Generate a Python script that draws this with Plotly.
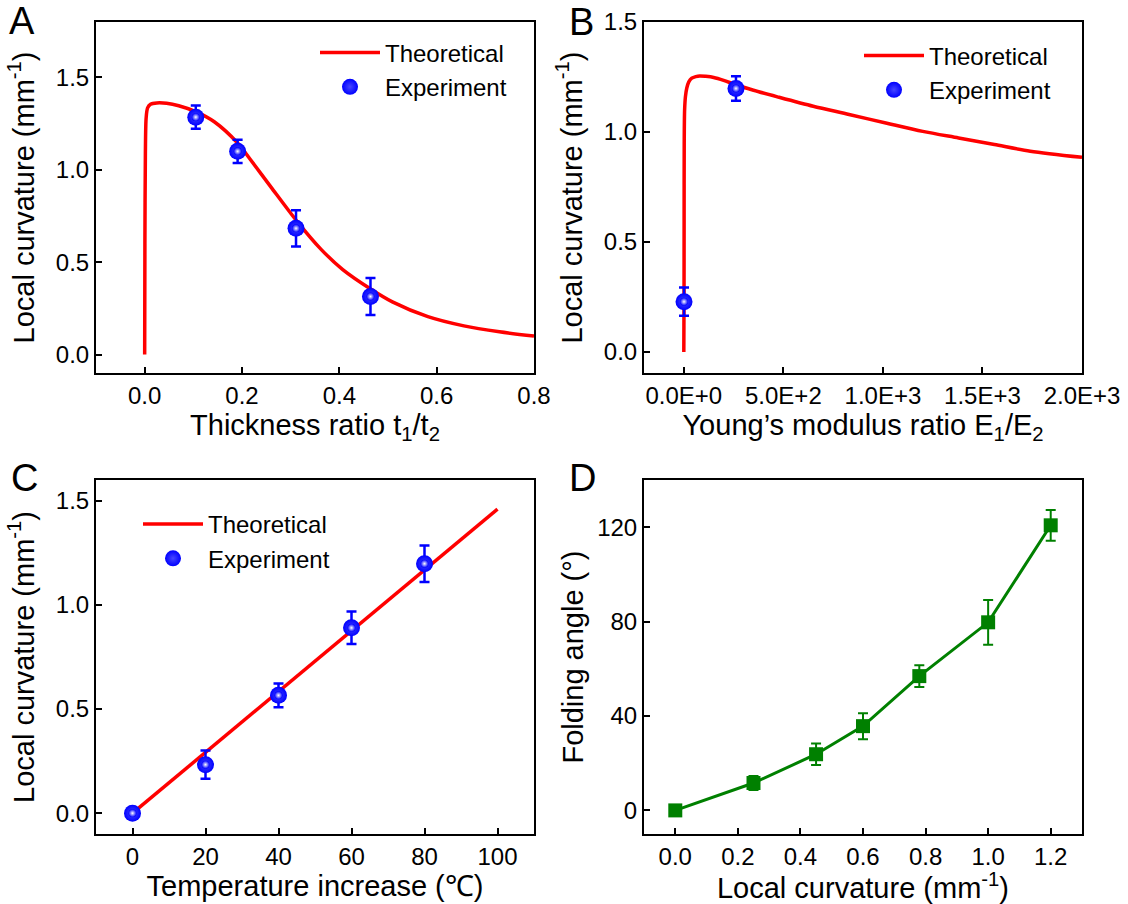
import plotly.graph_objects as go

W, H = 1128, 904
FONT = "Arial"

# ---------------- Panel A data ----------------
a_theory_x = [0, 0.0005, 0.0015, 0.003, 0.006, 0.012, 0.025, 0.045, 0.07, 0.105, 0.143,
              0.191, 0.216, 0.26, 0.311, 0.363, 0.407, 0.466, 0.509, 0.582, 0.656, 0.729, 0.8]
a_theory_y = [0, 0.6, 1.1, 1.28, 1.335, 1.355, 1.362, 1.36, 1.347, 1.315, 1.26,
              1.145, 1.06, 0.905, 0.728, 0.568, 0.46, 0.352, 0.285, 0.205, 0.155, 0.123, 0.100]
a_exp_x = [0.105, 0.191, 0.311, 0.464]
a_exp_y = [1.285, 1.10, 0.683, 0.314]
a_exp_err = [0.063, 0.063, 0.098, 0.10]

# ---------------- Panel B data ----------------
b_theory_x = [0, 0.5, 1, 1.5, 2, 4, 8, 15, 25, 40, 60, 80, 110, 150, 200, 260, 350, 470,
              650, 830, 1020, 1200, 1380, 1560, 1740, 2000]
b_theory_y = [0, 0.12, 0.23, 0.6, 0.95, 1.1, 1.16, 1.2, 1.228, 1.245, 1.252, 1.255, 1.253,
              1.248, 1.235, 1.215, 1.19, 1.16, 1.117, 1.08, 1.04, 1.003, 0.973, 0.943, 0.913, 0.885]
b_exp_x = [1, 262]
b_exp_y = [0.229, 1.198]
b_exp_err = [0.064, 0.056]
b_tickvals = [0, 500, 1000, 1500, 2000]
b_ticktext = ["0.0E+0", "5.0E+2", "1.0E+3", "1.5E+3", "2.0E+3"]

# ---------------- Panel C data ----------------
c_theory_x = [0, 100]
c_theory_y = [0, 1.46]
c_exp_x = [0, 20, 40, 60, 80]
c_exp_y = [0, 0.233, 0.566, 0.89, 1.198]
c_exp_err = [0, 0.068, 0.057, 0.078, 0.088]

# ---------------- Panel D data ----------------
d_x = [0, 0.25, 0.45, 0.6, 0.78, 1.0, 1.2]
d_y = [0, 11.6, 23.8, 35.7, 56.9, 79.7, 120.8]
d_err = [1.5, 3, 4.6, 5.5, 4.6, 9.5, 6.5]

RED = "#ff0000"
BLUE = "#0000ff"
GREEN = "#008000"

fig = go.Figure()

def theory(x, y, xa, ya, legend, shape="spline"):
    fig.add_trace(go.Scatter(x=x, y=y, mode="lines", name="Theoretical",
                             line=dict(color=RED, width=3.5, shape=shape, smoothing=0.8),
                             xaxis=xa, yaxis=ya, legend=legend))

def experiment(x, y, err, xa, ya, legend):
    fig.add_trace(go.Scatter(x=x, y=y, mode="markers", name="Experiment",
                             marker=dict(color=BLUE, size=17, line=dict(width=0),
                                         gradient=dict(type="radial", color="#4646ff")),
                             error_y=dict(type="data", array=err, visible=True,
                                          color=BLUE, thickness=2.5, width=5),
                             xaxis=xa, yaxis=ya, legend=legend))
    # specular highlight of the sphere markers
    fig.add_trace(go.Scatter(x=x, y=y, mode="markers", name="Experiment",
                             marker=dict(color=BLUE, size=8, line=dict(width=0),
                                         gradient=dict(type="radial", color="#ffffff")),
                             xaxis=xa, yaxis=ya, showlegend=False, hoverinfo="skip"))

theory(a_theory_x, a_theory_y, "x", "y", "legend")
experiment(a_exp_x, a_exp_y, a_exp_err, "x", "y", "legend")
theory(b_theory_x, b_theory_y, "x2", "y2", "legend2")
experiment(b_exp_x, b_exp_y, b_exp_err, "x2", "y2", "legend2")
theory(c_theory_x, c_theory_y, "x3", "y3", "legend3", shape="linear")
experiment(c_exp_x, c_exp_y, c_exp_err, "x3", "y3", "legend3")

fig.add_trace(go.Scatter(x=d_x, y=d_y, mode="lines+markers", name="Folding angle",
                         line=dict(color=GREEN, width=3),
                         marker=dict(color=GREEN, size=14, symbol="square", line=dict(width=0)),
                         error_y=dict(type="data", array=d_err, visible=True,
                                      color=GREEN, thickness=2, width=5),
                         xaxis="x4", yaxis="y4", showlegend=False))

axis_common = dict(showline=True, linewidth=2, linecolor="black", mirror=True,
                   ticks="inside", ticklen=6, tickwidth=2, tickcolor="black",
                   showgrid=False, zeroline=False, automargin=False,
                   tickfont=dict(size=24, color="black", family=FONT))
title_font = dict(size=29, color="black", family=FONT)

xA = [96 / W, 534 / W]
xB = [644 / W, 1082 / W]
yTop = [1 - 373 / H, 1 - 22 / H]
yBot = [1 - 834 / H, 1 - 480 / H]
legend_font = dict(size=24, family=FONT, color="black")

fig.update_layout(
    width=W, height=H,
    margin=dict(l=0, r=0, t=0, b=0),
    paper_bgcolor="white", plot_bgcolor="white",
    font=dict(family=FONT, color="black"),
    xaxis=dict(axis_common, domain=xA, anchor="y", range=[-0.1, 0.8],
               tickvals=[0, 0.2, 0.4, 0.6, 0.8], ticktext=["0.0", "0.2", "0.4", "0.6", "0.8"],
               title=dict(text="Thickness ratio t<sub>1</sub>/t<sub>2</sub>", font=title_font, standoff=6)),
    yaxis=dict(axis_common, domain=yTop, anchor="x", range=[-0.1, 1.8],
               tickvals=[0, 0.5, 1.0, 1.5], ticktext=["0.0", "0.5", "1.0", "1.5"],
               title=dict(text="Local curvature (mm<sup>-1</sup>)", font=title_font, standoff=13)),
    xaxis2=dict(axis_common, domain=xB, anchor="y2", range=[-200, 2000],
                tickvals=b_tickvals, ticktext=b_ticktext,
                title=dict(text="Young’s modulus ratio E<sub>1</sub>/E<sub>2</sub>", font=title_font, standoff=6)),
    yaxis2=dict(axis_common, domain=yTop, anchor="x2", range=[-0.095, 1.5],
                tickvals=[0, 0.5, 1.0, 1.5], ticktext=["0.0", "0.5", "1.0", "1.5"],
                title=dict(text="Local curvature (mm<sup>-1</sup>)", font=title_font, standoff=13)),
    xaxis3=dict(axis_common, domain=xA, anchor="y3", range=[-10, 110],
                tickvals=[0, 20, 40, 60, 80, 100],
                title=dict(text="Temperature increase (℃)", font=title_font, standoff=6)),
    yaxis3=dict(axis_common, domain=yBot, anchor="x3", range=[-0.1, 1.6],
                tickvals=[0, 0.5, 1.0, 1.5], ticktext=["0.0", "0.5", "1.0", "1.5"],
                title=dict(text="Local curvature (mm<sup>-1</sup>)", font=title_font, standoff=13)),
    xaxis4=dict(axis_common, domain=xB, anchor="y4", range=[-0.1, 1.3],
                tickvals=[0, 0.2, 0.4, 0.6, 0.8, 1.0, 1.2],
                ticktext=["0.0", "0.2", "0.4", "0.6", "0.8", "1.0", "1.2"],
                title=dict(text="Local curvature (mm<sup>-1</sup>)", font=title_font, standoff=6)),
    yaxis4=dict(axis_common, domain=yBot, anchor="x4", range=[-10, 140],
                tickvals=[0, 40, 80, 120],
                title=dict(text="Folding angle (°)", font=title_font, standoff=5)),
    legend=dict(x=315 / W, y=1 - 30.5 / H, xanchor="left", yanchor="top", font=legend_font,
                bgcolor="rgba(0,0,0,0)", itemwidth=60, tracegroupgap=0),
    legend2=dict(x=859 / W, y=1 - 33.5 / H, xanchor="left", yanchor="top", font=legend_font,
                 bgcolor="rgba(0,0,0,0)", itemwidth=60, tracegroupgap=0),
    legend3=dict(x=138 / W, y=1 - 502 / H, xanchor="left", yanchor="top", font=legend_font,
                 bgcolor="rgba(0,0,0,0)", itemwidth=60, tracegroupgap=0),
)

for txt, px, py in [("A", 22, 21), ("B", 581, 22), ("C", 24, 478), ("D", 582, 478)]:
    fig.add_annotation(text=txt, x=px / W, y=1 - py / H, xref="paper", yref="paper",
                       xanchor="center", yanchor="middle", showarrow=False,
                       font=dict(size=38, family=FONT, color="black"))

fig.write_html("out.html", config={"displayModeBar": False},
               post_script="document.body.style.margin='0px';document.body.style.overflow='hidden';")
